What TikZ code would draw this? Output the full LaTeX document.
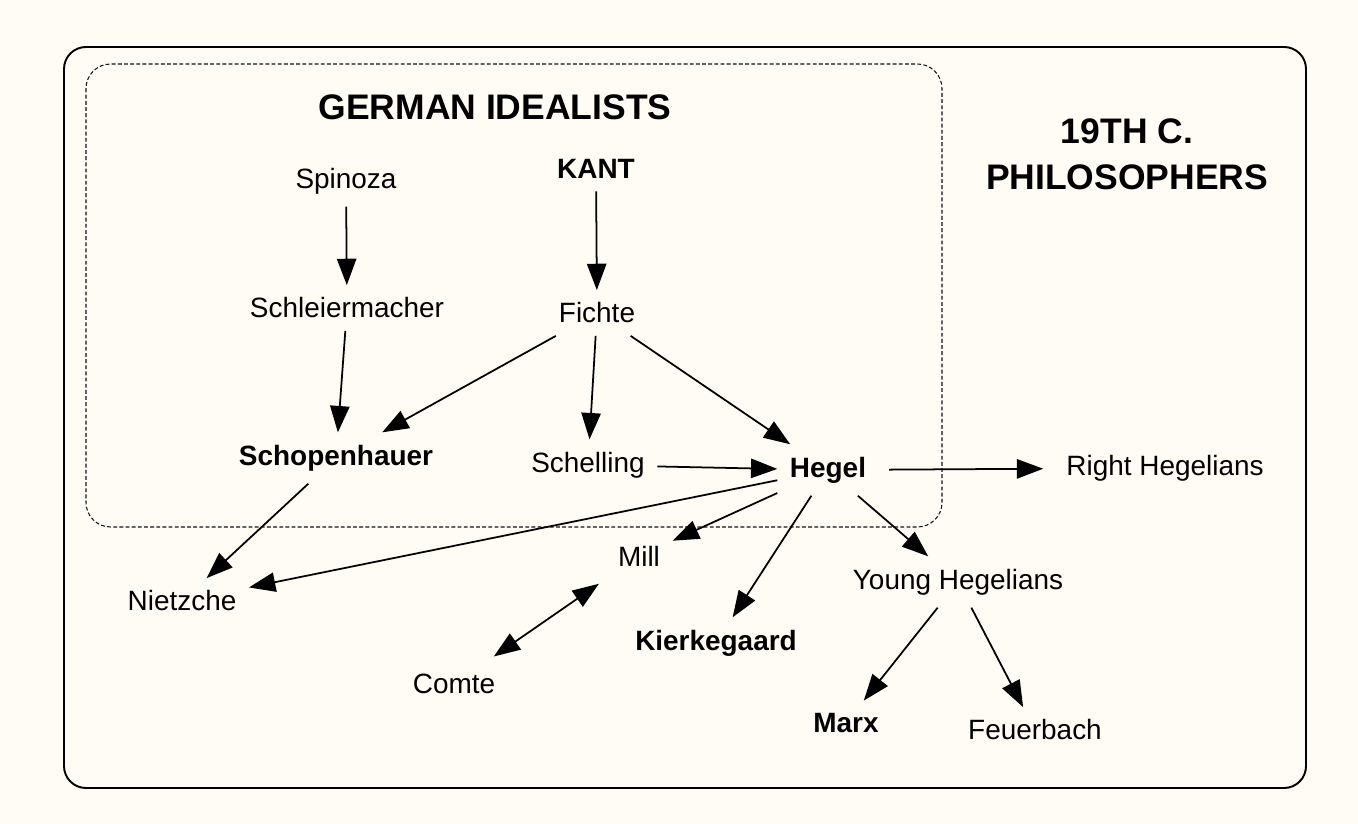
\documentclass[tikz,border=0pt]{standalone}
\usepackage{fontspec}
\setmainfont{Liberation Sans}
\usepackage{tikz}
\usetikzlibrary{arrows.meta,positioning}
\definecolor{fondCreme}{RGB}{255,252,245}
\definecolor{traitGris}{RGB}{20,20,20}

\begin{document}
\begin{tikzpicture}[x=0.02cm,y=-0.02cm,
  philo/.style={font=\fontsize{15.9}{19}\selectfont,inner sep=7pt},
  majeur/.style={philo,font=\fontsize{15.9}{19}\selectfont\bfseries},
  titre/.style={font=\fontsize{20.2}{26}\selectfont\bfseries,align=center},
  arr/.style={-{Triangle[length=15pt,width=11pt]},line width=1pt},
  arrdouble/.style={{Triangle[length=15pt,width=11pt]}-{Triangle[length=15pt,width=11pt]},line width=1pt}]

  \useasboundingbox[fill=fondCreme] (0,0) rectangle (1358,824);

  % Cadres
  \draw[line width=1.1pt,rounded corners=12.5pt] (64,47) rectangle (1306,788);
  \draw[traitGris,line width=0.6pt,dash pattern=on 2.2pt off 1.3pt,rounded corners=14pt] (86,64) rectangle (942,527);

  \node[titre] (T1) at (495,107) {GERMAN IDEALISTS};
  \node[titre] (T2) at (1127,154) {19TH C.\\PHILOSOPHERS};

  \node[philo]  (Spi)  at (346,181) {Spinoza};
  \node[majeur] (Kant) at (596,169) {KANT};
  \node[philo]  (Schl) at (347,308) {Schleiermacher};
  \node[philo]  (Fic)  at (597,313) {Fichte};
  \node[majeur] (Scho) at (336,458) {Schopenhauer};
  \node[philo]  (Sche) at (588,465) {Schelling};
  \node[majeur] (Heg)  at (828,470) {Hegel};
  \node[philo]  (RH)   at (1165,468) {Right Hegelians};
  \node[philo]  (Mill) at (639,556) {Mill};
  \node[philo]  (Nie)  at (182,601) {Nietzche};
  \node[philo]  (YH)   at (958,582) {Young Hegelians};
  \node[majeur] (Kie)  at (716,643) {Kierkegaard};
  \node[philo]  (Com)  at (454,684) {Comte};
  \node[majeur] (Marx) at (846,723) {Marx};
  \node[philo]  (Feu)  at (1035,730) {Feuerbach};

  \draw[arr] (Spi)--(Schl);
  \draw[arr] (Kant)--(Fic);
  \draw[arr] (Schl)--(Scho);
  \draw[arr] (Fic)--(Scho);
  \draw[arr] (Fic)--(Sche);
  \draw[arr] (Fic)--(Heg);
  \draw[arr] (Sche)--(Heg);
  \draw[arr,shorten >=6pt,shorten <=6pt] (Heg)--(RH);
  \draw[arr] (Heg)--(Nie);
  \draw[arr] (Heg)--(Mill);
  \draw[arr] (Heg)--(Kie);
  \draw[arr] (Heg)--(YH);
  \draw[arr] (Scho)--(Nie);
  \draw[arrdouble,shorten >=5pt,shorten <=5pt] (Com)--(Mill);
  \draw[arr] (YH)--(Marx);
  \draw[arr] (YH)--(Feu);
\end{tikzpicture}
\end{document}
